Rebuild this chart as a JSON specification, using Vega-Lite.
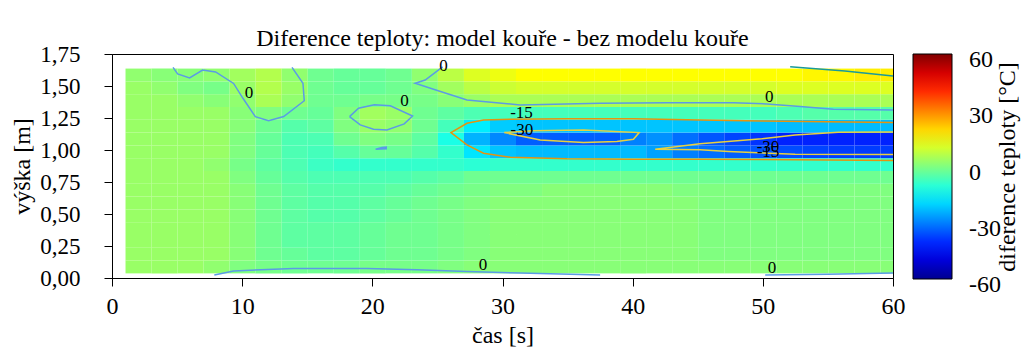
{
"$schema": "https://vega.github.io/schema/vega-lite/v6.json",
"width": 781, "height": 224,
"autosize": {"type": "none"},
"padding": {"left": 112, "top": 54, "right": 132, "bottom": 69},
"background": "white",
"title": {"text": "Diference teploty: model kouře - bez modelu kouře", "font": "Liberation Serif", "fontSize": 24, "fontWeight": "normal", "color": "black", "anchor": "middle", "frame": "group", "baseline": "bottom", "offset": 4, "dy": 36},
"datasets": {
"grid": [
{"t":1,"h":0.04,"v":3},{"t":3,"h":0.04,"v":3},{"t":5,"h":0.04,"v":3},{"t":7,"h":0.04,"v":2},{"t":9,"h":0.04,"v":0},{"t":11,"h":0.04,"v":-1},{"t":13,"h":0.04,"v":-2},{"t":15,"h":0.04,"v":-2},{"t":17,"h":0.04,"v":-2},{"t":19,"h":0.04,"v":-1},{"t":21,"h":0.04,"v":-1},{"t":23,"h":0.04,"v":-1},{"t":25,"h":0.04,"v":0},{"t":27,"h":0.04,"v":1},{"t":29,"h":0.04,"v":1},{"t":31,"h":0.04,"v":1},{"t":33,"h":0.04,"v":1},{"t":35,"h":0.04,"v":1},{"t":37,"h":0.04,"v":1},{"t":39,"h":0.04,"v":1},{"t":41,"h":0.04,"v":1},{"t":43,"h":0.04,"v":1},{"t":45,"h":0.04,"v":1},{"t":47,"h":0.04,"v":1},{"t":49,"h":0.04,"v":1},{"t":51,"h":0.04,"v":1},{"t":53,"h":0.04,"v":1},{"t":55,"h":0.04,"v":1},{"t":57,"h":0.04,"v":1},{"t":59,"h":0.04,"v":1},
{"t":1,"h":0.14,"v":3},{"t":3,"h":0.14,"v":3},{"t":5,"h":0.14,"v":3},{"t":7,"h":0.14,"v":3},{"t":9,"h":0.14,"v":1},{"t":11,"h":0.14,"v":-2},{"t":13,"h":0.14,"v":-3},{"t":15,"h":0.14,"v":-4},{"t":17,"h":0.14,"v":-4},{"t":19,"h":0.14,"v":-3},{"t":21,"h":0.14,"v":-2},{"t":23,"h":0.14,"v":-2},{"t":25,"h":0.14,"v":-1},{"t":27,"h":0.14,"v":0},{"t":29,"h":0.14,"v":1},{"t":31,"h":0.14,"v":1},{"t":33,"h":0.14,"v":1},{"t":35,"h":0.14,"v":1},{"t":37,"h":0.14,"v":1},{"t":39,"h":0.14,"v":1},{"t":41,"h":0.14,"v":1},{"t":43,"h":0.14,"v":1},{"t":45,"h":0.14,"v":0},{"t":47,"h":0.14,"v":0},{"t":49,"h":0.14,"v":0},{"t":51,"h":0.14,"v":0},{"t":53,"h":0.14,"v":0},{"t":55,"h":0.14,"v":0},{"t":57,"h":0.14,"v":0},{"t":59,"h":0.14,"v":0},
{"t":1,"h":0.24,"v":3},{"t":3,"h":0.24,"v":3},{"t":5,"h":0.24,"v":3},{"t":7,"h":0.24,"v":3},{"t":9,"h":0.24,"v":1},{"t":11,"h":0.24,"v":-2},{"t":13,"h":0.24,"v":-4},{"t":15,"h":0.24,"v":-4},{"t":17,"h":0.24,"v":-4},{"t":19,"h":0.24,"v":-3},{"t":21,"h":0.24,"v":-2},{"t":23,"h":0.24,"v":-2},{"t":25,"h":0.24,"v":-1},{"t":27,"h":0.24,"v":0},{"t":29,"h":0.24,"v":1},{"t":31,"h":0.24,"v":1},{"t":33,"h":0.24,"v":1},{"t":35,"h":0.24,"v":1},{"t":37,"h":0.24,"v":1},{"t":39,"h":0.24,"v":1},{"t":41,"h":0.24,"v":1},{"t":43,"h":0.24,"v":1},{"t":45,"h":0.24,"v":0},{"t":47,"h":0.24,"v":0},{"t":49,"h":0.24,"v":0},{"t":51,"h":0.24,"v":0},{"t":53,"h":0.24,"v":0},{"t":55,"h":0.24,"v":0},{"t":57,"h":0.24,"v":0},{"t":59,"h":0.24,"v":0},
{"t":1,"h":0.34,"v":3},{"t":3,"h":0.34,"v":3},{"t":5,"h":0.34,"v":3},{"t":7,"h":0.34,"v":3},{"t":9,"h":0.34,"v":1},{"t":11,"h":0.34,"v":-2},{"t":13,"h":0.34,"v":-4},{"t":15,"h":0.34,"v":-4},{"t":17,"h":0.34,"v":-4},{"t":19,"h":0.34,"v":-3},{"t":21,"h":0.34,"v":-2},{"t":23,"h":0.34,"v":-2},{"t":25,"h":0.34,"v":-1},{"t":27,"h":0.34,"v":0},{"t":29,"h":0.34,"v":1},{"t":31,"h":0.34,"v":1},{"t":33,"h":0.34,"v":1},{"t":35,"h":0.34,"v":1},{"t":37,"h":0.34,"v":1},{"t":39,"h":0.34,"v":1},{"t":41,"h":0.34,"v":1},{"t":43,"h":0.34,"v":1},{"t":45,"h":0.34,"v":0},{"t":47,"h":0.34,"v":0},{"t":49,"h":0.34,"v":0},{"t":51,"h":0.34,"v":0},{"t":53,"h":0.34,"v":0},{"t":55,"h":0.34,"v":0},{"t":57,"h":0.34,"v":0},{"t":59,"h":0.34,"v":0},
{"t":1,"h":0.44,"v":3},{"t":3,"h":0.44,"v":3},{"t":5,"h":0.44,"v":3},{"t":7,"h":0.44,"v":3},{"t":9,"h":0.44,"v":1},{"t":11,"h":0.44,"v":-2},{"t":13,"h":0.44,"v":-4},{"t":15,"h":0.44,"v":-5},{"t":17,"h":0.44,"v":-5},{"t":19,"h":0.44,"v":-4},{"t":21,"h":0.44,"v":-3},{"t":23,"h":0.44,"v":-2},{"t":25,"h":0.44,"v":-1},{"t":27,"h":0.44,"v":0},{"t":29,"h":0.44,"v":1},{"t":31,"h":0.44,"v":1},{"t":33,"h":0.44,"v":1},{"t":35,"h":0.44,"v":1},{"t":37,"h":0.44,"v":1},{"t":39,"h":0.44,"v":1},{"t":41,"h":0.44,"v":1},{"t":43,"h":0.44,"v":1},{"t":45,"h":0.44,"v":0},{"t":47,"h":0.44,"v":0},{"t":49,"h":0.44,"v":0},{"t":51,"h":0.44,"v":0},{"t":53,"h":0.44,"v":0},{"t":55,"h":0.44,"v":0},{"t":57,"h":0.44,"v":0},{"t":59,"h":0.44,"v":0},
{"t":1,"h":0.54,"v":3},{"t":3,"h":0.54,"v":3},{"t":5,"h":0.54,"v":3},{"t":7,"h":0.54,"v":3},{"t":9,"h":0.54,"v":1},{"t":11,"h":0.54,"v":-2},{"t":13,"h":0.54,"v":-4},{"t":15,"h":0.54,"v":-5},{"t":17,"h":0.54,"v":-5},{"t":19,"h":0.54,"v":-4},{"t":21,"h":0.54,"v":-3},{"t":23,"h":0.54,"v":-2},{"t":25,"h":0.54,"v":-1},{"t":27,"h":0.54,"v":0},{"t":29,"h":0.54,"v":1},{"t":31,"h":0.54,"v":1},{"t":33,"h":0.54,"v":1},{"t":35,"h":0.54,"v":1},{"t":37,"h":0.54,"v":1},{"t":39,"h":0.54,"v":1},{"t":41,"h":0.54,"v":1},{"t":43,"h":0.54,"v":1},{"t":45,"h":0.54,"v":0},{"t":47,"h":0.54,"v":0},{"t":49,"h":0.54,"v":0},{"t":51,"h":0.54,"v":0},{"t":53,"h":0.54,"v":0},{"t":55,"h":0.54,"v":0},{"t":57,"h":0.54,"v":0},{"t":59,"h":0.54,"v":0},
{"t":1,"h":0.64,"v":3},{"t":3,"h":0.64,"v":3},{"t":5,"h":0.64,"v":3},{"t":7,"h":0.64,"v":3},{"t":9,"h":0.64,"v":1},{"t":11,"h":0.64,"v":-2},{"t":13,"h":0.64,"v":-4},{"t":15,"h":0.64,"v":-5},{"t":17,"h":0.64,"v":-5},{"t":19,"h":0.64,"v":-5},{"t":21,"h":0.64,"v":-4},{"t":23,"h":0.64,"v":-3},{"t":25,"h":0.64,"v":-2},{"t":27,"h":0.64,"v":-1},{"t":29,"h":0.64,"v":0},{"t":31,"h":0.64,"v":0},{"t":33,"h":0.64,"v":1},{"t":35,"h":0.64,"v":1},{"t":37,"h":0.64,"v":1},{"t":39,"h":0.64,"v":1},{"t":41,"h":0.64,"v":1},{"t":43,"h":0.64,"v":0},{"t":45,"h":0.64,"v":0},{"t":47,"h":0.64,"v":0},{"t":49,"h":0.64,"v":0},{"t":51,"h":0.64,"v":0},{"t":53,"h":0.64,"v":0},{"t":55,"h":0.64,"v":0},{"t":57,"h":0.64,"v":0},{"t":59,"h":0.64,"v":0},
{"t":1,"h":0.74,"v":3},{"t":3,"h":0.74,"v":3},{"t":5,"h":0.74,"v":3},{"t":7,"h":0.74,"v":3},{"t":9,"h":0.74,"v":0},{"t":11,"h":0.74,"v":-3},{"t":13,"h":0.74,"v":-5},{"t":15,"h":0.74,"v":-6},{"t":17,"h":0.74,"v":-6},{"t":19,"h":0.74,"v":-6},{"t":21,"h":0.74,"v":-6},{"t":23,"h":0.74,"v":-5},{"t":25,"h":0.74,"v":-4},{"t":27,"h":0.74,"v":-2},{"t":29,"h":0.74,"v":-2},{"t":31,"h":0.74,"v":-2},{"t":33,"h":0.74,"v":-2},{"t":35,"h":0.74,"v":-2},{"t":37,"h":0.74,"v":-2},{"t":39,"h":0.74,"v":-2},{"t":41,"h":0.74,"v":-2},{"t":43,"h":0.74,"v":-2},{"t":45,"h":0.74,"v":-2},{"t":47,"h":0.74,"v":-2},{"t":49,"h":0.74,"v":-2},{"t":51,"h":0.74,"v":-2},{"t":53,"h":0.74,"v":-2},{"t":55,"h":0.74,"v":-2},{"t":57,"h":0.74,"v":-2},{"t":59,"h":0.74,"v":-2},
{"t":1,"h":0.84,"v":3},{"t":3,"h":0.84,"v":3},{"t":5,"h":0.84,"v":3},{"t":7,"h":0.84,"v":2},{"t":9,"h":0.84,"v":-1},{"t":11,"h":0.84,"v":-4},{"t":13,"h":0.84,"v":-6},{"t":15,"h":0.84,"v":-8},{"t":17,"h":0.84,"v":-9},{"t":19,"h":0.84,"v":-9},{"t":21,"h":0.84,"v":-9},{"t":23,"h":0.84,"v":-9},{"t":25,"h":0.84,"v":-9},{"t":27,"h":0.84,"v":-10},{"t":29,"h":0.84,"v":-9},{"t":31,"h":0.84,"v":-9},{"t":33,"h":0.84,"v":-9},{"t":35,"h":0.84,"v":-9},{"t":37,"h":0.84,"v":-9},{"t":39,"h":0.84,"v":-9},{"t":41,"h":0.84,"v":-9},{"t":43,"h":0.84,"v":-9},{"t":45,"h":0.84,"v":-9},{"t":47,"h":0.84,"v":-9},{"t":49,"h":0.84,"v":-9},{"t":51,"h":0.84,"v":-9},{"t":53,"h":0.84,"v":-9},{"t":55,"h":0.84,"v":-9},{"t":57,"h":0.84,"v":-9},{"t":59,"h":0.84,"v":-9},
{"t":1,"h":0.94,"v":3},{"t":3,"h":0.94,"v":3},{"t":5,"h":0.94,"v":3},{"t":7,"h":0.94,"v":3},{"t":9,"h":0.94,"v":0},{"t":11,"h":0.94,"v":-3},{"t":13,"h":0.94,"v":-6},{"t":15,"h":0.94,"v":-7},{"t":17,"h":0.94,"v":-5},{"t":19,"h":0.94,"v":-3},{"t":21,"h":0.94,"v":-3},{"t":23,"h":0.94,"v":-5},{"t":25,"h":0.94,"v":-9},{"t":27,"h":0.94,"v":-18},{"t":29,"h":0.94,"v":-22},{"t":31,"h":0.94,"v":-23},{"t":33,"h":0.94,"v":-23},{"t":35,"h":0.94,"v":-23},{"t":37,"h":0.94,"v":-23},{"t":39,"h":0.94,"v":-23},{"t":41,"h":0.94,"v":-26},{"t":43,"h":0.94,"v":-30},{"t":45,"h":0.94,"v":-32},{"t":47,"h":0.94,"v":-34},{"t":49,"h":0.94,"v":-35},{"t":51,"h":0.94,"v":-36},{"t":53,"h":0.94,"v":-37},{"t":55,"h":0.94,"v":-38},{"t":57,"h":0.94,"v":-38},{"t":59,"h":0.94,"v":-38},
{"t":1,"h":1.04,"v":3},{"t":3,"h":1.04,"v":3},{"t":5,"h":1.04,"v":3},{"t":7,"h":1.04,"v":3},{"t":9,"h":1.04,"v":0},{"t":11,"h":1.04,"v":-3},{"t":13,"h":1.04,"v":-6},{"t":15,"h":1.04,"v":-6},{"t":17,"h":1.04,"v":-2},{"t":19,"h":1.04,"v":0},{"t":21,"h":1.04,"v":-1},{"t":23,"h":1.04,"v":-4},{"t":25,"h":1.04,"v":-12},{"t":27,"h":1.04,"v":-24},{"t":29,"h":1.04,"v":-29},{"t":31,"h":1.04,"v":-34},{"t":33,"h":1.04,"v":-34},{"t":35,"h":1.04,"v":-34},{"t":37,"h":1.04,"v":-34},{"t":39,"h":1.04,"v":-30},{"t":41,"h":1.04,"v":-28},{"t":43,"h":1.04,"v":-32},{"t":45,"h":1.04,"v":-35},{"t":47,"h":1.04,"v":-37},{"t":49,"h":1.04,"v":-39},{"t":51,"h":1.04,"v":-41},{"t":53,"h":1.04,"v":-41},{"t":55,"h":1.04,"v":-41},{"t":57,"h":1.04,"v":-41},{"t":59,"h":1.04,"v":-41},
{"t":1,"h":1.14,"v":3},{"t":3,"h":1.14,"v":3},{"t":5,"h":1.14,"v":3},{"t":7,"h":1.14,"v":3},{"t":9,"h":1.14,"v":1},{"t":11,"h":1.14,"v":-2},{"t":13,"h":1.14,"v":-5},{"t":15,"h":1.14,"v":-4},{"t":17,"h":1.14,"v":0},{"t":19,"h":1.14,"v":3},{"t":21,"h":1.14,"v":2},{"t":23,"h":1.14,"v":-2},{"t":25,"h":1.14,"v":-7},{"t":27,"h":1.14,"v":-17},{"t":29,"h":1.14,"v":-21},{"t":31,"h":1.14,"v":-22},{"t":33,"h":1.14,"v":-22},{"t":35,"h":1.14,"v":-22},{"t":37,"h":1.14,"v":-22},{"t":39,"h":1.14,"v":-22},{"t":41,"h":1.14,"v":-22},{"t":43,"h":1.14,"v":-22},{"t":45,"h":1.14,"v":-22},{"t":47,"h":1.14,"v":-22},{"t":49,"h":1.14,"v":-22},{"t":51,"h":1.14,"v":-23},{"t":53,"h":1.14,"v":-23},{"t":55,"h":1.14,"v":-23},{"t":57,"h":1.14,"v":-23},{"t":59,"h":1.14,"v":-23},
{"t":1,"h":1.24,"v":3},{"t":3,"h":1.24,"v":3},{"t":5,"h":1.24,"v":3},{"t":7,"h":1.24,"v":3},{"t":9,"h":1.24,"v":1},{"t":11,"h":1.24,"v":0},{"t":13,"h":1.24,"v":-2},{"t":15,"h":1.24,"v":-3},{"t":17,"h":1.24,"v":0},{"t":19,"h":1.24,"v":4},{"t":21,"h":1.24,"v":3},{"t":23,"h":1.24,"v":-2},{"t":25,"h":1.24,"v":-4},{"t":27,"h":1.24,"v":-6},{"t":29,"h":1.24,"v":-7},{"t":31,"h":1.24,"v":-7},{"t":33,"h":1.24,"v":-7},{"t":35,"h":1.24,"v":-7},{"t":37,"h":1.24,"v":-7},{"t":39,"h":1.24,"v":-7},{"t":41,"h":1.24,"v":-7},{"t":43,"h":1.24,"v":-7},{"t":45,"h":1.24,"v":-7},{"t":47,"h":1.24,"v":-7},{"t":49,"h":1.24,"v":-7},{"t":51,"h":1.24,"v":-6},{"t":53,"h":1.24,"v":-5},{"t":55,"h":1.24,"v":-5},{"t":57,"h":1.24,"v":-5},{"t":59,"h":1.24,"v":-5},
{"t":1,"h":1.34,"v":3},{"t":3,"h":1.34,"v":3},{"t":5,"h":1.34,"v":2},{"t":7,"h":1.34,"v":1},{"t":9,"h":1.34,"v":2},{"t":11,"h":1.34,"v":5},{"t":13,"h":1.34,"v":2},{"t":15,"h":1.34,"v":-2},{"t":17,"h":1.34,"v":-2},{"t":19,"h":1.34,"v":-1},{"t":21,"h":1.34,"v":-1},{"t":23,"h":1.34,"v":-1},{"t":25,"h":1.34,"v":1},{"t":27,"h":1.34,"v":3},{"t":29,"h":1.34,"v":5},{"t":31,"h":1.34,"v":5},{"t":33,"h":1.34,"v":5},{"t":35,"h":1.34,"v":5},{"t":37,"h":1.34,"v":5},{"t":39,"h":1.34,"v":5},{"t":41,"h":1.34,"v":5},{"t":43,"h":1.34,"v":5},{"t":45,"h":1.34,"v":5},{"t":47,"h":1.34,"v":5},{"t":49,"h":1.34,"v":5},{"t":51,"h":1.34,"v":5},{"t":53,"h":1.34,"v":5},{"t":55,"h":1.34,"v":5},{"t":57,"h":1.34,"v":5},{"t":59,"h":1.34,"v":5},
{"t":1,"h":1.44,"v":3},{"t":3,"h":1.44,"v":2},{"t":5,"h":1.44,"v":0},{"t":7,"h":1.44,"v":-1},{"t":9,"h":1.44,"v":3},{"t":11,"h":1.44,"v":6},{"t":13,"h":1.44,"v":3},{"t":15,"h":1.44,"v":-2},{"t":17,"h":1.44,"v":-3},{"t":19,"h":1.44,"v":-3},{"t":21,"h":1.44,"v":-2},{"t":23,"h":1.44,"v":0},{"t":25,"h":1.44,"v":4},{"t":27,"h":1.44,"v":7},{"t":29,"h":1.44,"v":9},{"t":31,"h":1.44,"v":10},{"t":33,"h":1.44,"v":10},{"t":35,"h":1.44,"v":10},{"t":37,"h":1.44,"v":10},{"t":39,"h":1.44,"v":10},{"t":41,"h":1.44,"v":10},{"t":43,"h":1.44,"v":10},{"t":45,"h":1.44,"v":10},{"t":47,"h":1.44,"v":10},{"t":49,"h":1.44,"v":10},{"t":51,"h":1.44,"v":11},{"t":53,"h":1.44,"v":11},{"t":55,"h":1.44,"v":11},{"t":57,"h":1.44,"v":11},{"t":59,"h":1.44,"v":11},
{"t":1,"h":1.54,"v":2},{"t":3,"h":1.54,"v":1},{"t":5,"h":1.54,"v":1},{"t":7,"h":1.54,"v":2},{"t":9,"h":1.54,"v":4},{"t":11,"h":1.54,"v":6},{"t":13,"h":1.54,"v":2},{"t":15,"h":1.54,"v":-2},{"t":17,"h":1.54,"v":-3},{"t":19,"h":1.54,"v":-3},{"t":21,"h":1.54,"v":-2},{"t":23,"h":1.54,"v":2},{"t":25,"h":1.54,"v":7},{"t":27,"h":1.54,"v":11},{"t":29,"h":1.54,"v":13},{"t":31,"h":1.54,"v":15},{"t":33,"h":1.54,"v":15},{"t":35,"h":1.54,"v":15},{"t":37,"h":1.54,"v":15},{"t":39,"h":1.54,"v":15},{"t":41,"h":1.54,"v":15},{"t":43,"h":1.54,"v":15},{"t":45,"h":1.54,"v":15},{"t":47,"h":1.54,"v":15},{"t":49,"h":1.54,"v":15},{"t":51,"h":1.54,"v":15},{"t":53,"h":1.54,"v":16},{"t":55,"h":1.54,"v":16},{"t":57,"h":1.54,"v":17},{"t":59,"h":1.54,"v":17}
],
"contours": [
{"c":"A","lv":"0","o":1,"t":4.69,"h":1.646},{"c":"A","lv":"0","o":2,"t":5.04,"h":1.594},{"c":"A","lv":"0","o":3,"t":5.96,"h":1.563},{"c":"A","lv":"0","o":4,"t":6.96,"h":1.625},{"c":"A","lv":"0","o":5,"t":7.96,"h":1.61},{"c":"A","lv":"0","o":6,"t":9.34,"h":1.52},{"c":"A","lv":"0","o":7,"t":10.06,"h":1.404},{"c":"A","lv":"0","o":8,"t":11.01,"h":1.261},{"c":"A","lv":"0","o":9,"t":12.03,"h":1.229},{"c":"A","lv":"0","o":10,"t":13.19,"h":1.261},{"c":"A","lv":"0","o":11,"t":14.77,"h":1.385},{"c":"A","lv":"0","o":12,"t":14.67,"h":1.521},{"c":"A","lv":"0","o":13,"t":13.83,"h":1.646},
{"c":"B","lv":"0","o":1,"t":18.25,"h":1.261},{"c":"B","lv":"0","o":2,"t":18.94,"h":1.326},{"c":"B","lv":"0","o":3,"t":20.15,"h":1.354},{"c":"B","lv":"0","o":4,"t":21.38,"h":1.346},{"c":"B","lv":"0","o":5,"t":23.09,"h":1.266},{"c":"B","lv":"0","o":6,"t":22.45,"h":1.204},{"c":"B","lv":"0","o":7,"t":21.12,"h":1.157},{"c":"B","lv":"0","o":8,"t":20.09,"h":1.162},{"c":"B","lv":"0","o":9,"t":19.07,"h":1.196},{"c":"B","lv":"0","o":10,"t":18.25,"h":1.261},
{"c":"C","lv":"0","o":1,"t":20.25,"h":1.006},{"c":"C","lv":"0","o":2,"t":20.74,"h":1.019},{"c":"C","lv":"0","o":3,"t":21.07,"h":1.022},{"c":"C","lv":"0","o":4,"t":21.07,"h":1.009},{"c":"C","lv":"0","o":5,"t":20.25,"h":1.006},
{"c":"D","lv":"0","o":1,"t":25.4,"h":1.65},{"c":"D","lv":"0","o":2,"t":24.06,"h":1.547},{"c":"D","lv":"0","o":3,"t":23.29,"h":1.521},{"c":"D","lv":"0","o":4,"t":24.7,"h":1.474},{"c":"D","lv":"0","o":5,"t":27.27,"h":1.391},{"c":"D","lv":"0","o":6,"t":31.36,"h":1.352},{"c":"D","lv":"0","o":7,"t":37.5,"h":1.365},{"c":"D","lv":"0","o":8,"t":42.63,"h":1.37},{"c":"D","lv":"0","o":9,"t":47.74,"h":1.37},{"c":"D","lv":"0","o":10,"t":50.31,"h":1.36},{"c":"D","lv":"0","o":11,"t":52.87,"h":1.339},{"c":"D","lv":"0","o":12,"t":55.42,"h":1.318},{"c":"D","lv":"0","o":13,"t":60,"h":1.313},
{"c":"I","lv":"0","o":1,"t":7.86,"h":0.023},{"c":"I","lv":"0","o":2,"t":9.34,"h":0.055},{"c":"I","lv":"0","o":3,"t":13.95,"h":0.075},{"c":"I","lv":"0","o":4,"t":19.59,"h":0.075},{"c":"I","lv":"0","o":5,"t":23.43,"h":0.065},{"c":"I","lv":"0","o":6,"t":27.27,"h":0.051},{"c":"I","lv":"0","o":7,"t":31.36,"h":0.039},{"c":"I","lv":"0","o":8,"t":37.5,"h":0.023},
{"c":"J","lv":"0","o":1,"t":50.18,"h":0.023},{"c":"J","lv":"0","o":2,"t":55,"h":0.03},{"c":"J","lv":"0","o":3,"t":60,"h":0.039},
{"c":"E","lv":"15","o":1,"t":52.1,"h":1.65},{"c":"E","lv":"15","o":2,"t":56.3,"h":1.617},{"c":"E","lv":"15","o":3,"t":60,"h":1.578},
{"c":"F","lv":"-15","o":1,"t":60,"h":1.214},{"c":"F","lv":"-15","o":2,"t":49.9,"h":1.227},{"c":"F","lv":"-15","o":3,"t":45.18,"h":1.235},{"c":"F","lv":"-15","o":4,"t":40.06,"h":1.245},{"c":"F","lv":"-15","o":5,"t":34.95,"h":1.245},{"c":"F","lv":"-15","o":6,"t":30.59,"h":1.24},{"c":"F","lv":"-15","o":7,"t":28.54,"h":1.235},{"c":"F","lv":"-15","o":8,"t":27.27,"h":1.209},{"c":"F","lv":"-15","o":9,"t":26.04,"h":1.136},{"c":"F","lv":"-15","o":10,"t":27.27,"h":1.04},{"c":"F","lv":"-15","o":11,"t":28.54,"h":0.975},{"c":"F","lv":"-15","o":12,"t":30.59,"h":0.944},{"c":"F","lv":"-15","o":13,"t":34.95,"h":0.931},{"c":"F","lv":"-15","o":14,"t":40.06,"h":0.928},{"c":"F","lv":"-15","o":15,"t":45.18,"h":0.928},{"c":"F","lv":"-15","o":16,"t":50,"h":0.925},{"c":"F","lv":"-15","o":17,"t":60,"h":0.917},
{"c":"G","lv":"-30","o":1,"t":30.13,"h":1.136},{"c":"G","lv":"-30","o":2,"t":32.38,"h":1.151},{"c":"G","lv":"-30","o":3,"t":36.22,"h":1.157},{"c":"G","lv":"-30","o":4,"t":40.5,"h":1.136},{"c":"G","lv":"-30","o":5,"t":40.06,"h":1.084},{"c":"G","lv":"-30","o":6,"t":38.79,"h":1.066},{"c":"G","lv":"-30","o":7,"t":36.22,"h":1.058},{"c":"G","lv":"-30","o":8,"t":32.9,"h":1.079},{"c":"G","lv":"-30","o":9,"t":30.13,"h":1.136},
{"c":"H","lv":"-30","o":1,"t":60,"h":1.141},{"c":"H","lv":"-30","o":2,"t":55.81,"h":1.139},{"c":"H","lv":"-30","o":3,"t":52.48,"h":1.118},{"c":"H","lv":"-30","o":4,"t":49.92,"h":1.087},{"c":"H","lv":"-30","o":5,"t":45.18,"h":1.048},{"c":"H","lv":"-30","o":6,"t":41.73,"h":1.006},{"c":"H","lv":"-30","o":7,"t":45.18,"h":1.001},{"c":"H","lv":"-30","o":8,"t":47.36,"h":0.988},{"c":"H","lv":"-30","o":9,"t":52.48,"h":0.967},{"c":"H","lv":"-30","o":10,"t":60,"h":0.964}
],
"labels": [
{"s":"0","t":10.52,"h":1.443},{"s":"0","t":25.47,"h":1.654},{"s":"0","t":22.47,"h":1.381},{"s":"0","t":28.5,"h":0.1},{"s":"-15","t":31.46,"h":1.292},{"s":"-30","t":31.49,"h":1.157},{"s":"0","t":50.5,"h":1.414},{"s":"-30","t":50.4,"h":1.024},{"s":"-15","t":50.4,"h":0.985},{"s":"0","t":50.7,"h":0.078}
]
},
"layer": [
{"data": {"name": "grid"},
 "mark": {"type": "rect", "clip": true, "binSpacing": 0},
 "encoding": {
  "x": {"field": "t", "type": "quantitative", "bin": {"binned": true, "step": 2}, "title": "čas [s]",
        "scale": {"domain": [0, 60], "nice": false, "zero": false},
        "axis": {"values": [0,10,20,30,40,50,60], "format": "d", "labelPadding": 8, "titlePadding": 5}},
  "y": {"field": "h", "type": "quantitative", "bin": {"binned": true, "step": 0.1}, "title": "výška [m]",
        "scale": {"domain": [0, 1.75], "nice": false, "zero": false},
        "axis": {"values": [0,0.25,0.5,0.75,1,1.25,1.5,1.75], "labelExpr": "replace(format(datum.value, '.2f'), '.', ',')", "labelFontSize": 23, "labelPadding": 24, "titlePadding": 5}},
  "color": {"field": "v", "type": "quantitative",
        "scale": {"type": "linear", "domain": [-60,-45,-15,15,45,60], "range": ["#000090","#0000ff","#00ffff","#ffff00","#ff0000","#800000"], "interpolate": "rgb", "clamp": true},
        "legend": {"type": "gradient", "title": "diference teploty [°C]", "orient": "right", "offset": 20, "direction": "vertical", "gradientLength": 225, "gradientThickness": 39, "values": [-60,-30,0,30,60], "labelExpr": "'' + datum.value", "labelFont": "Liberation Serif", "labelFontSize": 24, "labelColor": "black", "labelOffset": 17, "labelOverlap": false, "titleFont": "Liberation Serif", "titleFontSize": 24, "titleFontWeight": "normal", "titleColor": "black", "titleOrient": "right", "titleAnchor": "middle", "titleLimit": 400, "titlePadding": 4, "gradientStrokeColor": "black", "gradientStrokeWidth": 1,
          "encode": {"title": {"update": {"angle": {"value": -90}, "dy": {"value": 15}}}, "labels": {"update": {"baseline": {"value": "middle"}, "dy": {"value": 6}}}}}}
 }},
{"data": {"name": "contours"}, "transform": [{"filter": {"field": "lv", "equal": "0"}}],
 "mark": {"type": "line", "stroke": "#5b9be6", "strokeWidth": 1.5, "clip": true},
 "encoding": {"x": {"field": "t", "type": "quantitative", "title": "čas [s]"}, "y": {"field": "h", "type": "quantitative", "title": "výška [m]"}, "detail": {"field": "c"}, "order": {"field": "o", "type": "quantitative"}}},
{"data": {"name": "contours"}, "transform": [{"filter": {"field": "lv", "equal": "15"}}],
 "mark": {"type": "line", "stroke": "#1a9a9a", "strokeWidth": 1.5, "clip": true},
 "encoding": {"x": {"field": "t", "type": "quantitative", "title": "čas [s]"}, "y": {"field": "h", "type": "quantitative", "title": "výška [m]"}, "detail": {"field": "c"}, "order": {"field": "o", "type": "quantitative"}}},
{"data": {"name": "contours"}, "transform": [{"filter": {"field": "lv", "equal": "-15"}}],
 "mark": {"type": "line", "stroke": "#e5940f", "strokeWidth": 1.5, "clip": true},
 "encoding": {"x": {"field": "t", "type": "quantitative", "title": "čas [s]"}, "y": {"field": "h", "type": "quantitative", "title": "výška [m]"}, "detail": {"field": "c"}, "order": {"field": "o", "type": "quantitative"}}},
{"data": {"name": "contours"}, "transform": [{"filter": {"field": "lv", "equal": "-30"}}],
 "mark": {"type": "line", "stroke": "#e8d040", "strokeWidth": 1.5, "clip": true},
 "encoding": {"x": {"field": "t", "type": "quantitative", "title": "čas [s]"}, "y": {"field": "h", "type": "quantitative", "title": "výška [m]"}, "detail": {"field": "c"}, "order": {"field": "o", "type": "quantitative"}}},
{"data": {"name": "labels"},
 "mark": {"type": "text", "font": "Liberation Serif", "fontSize": 17, "color": "black", "align": "center", "baseline": "middle"},
 "encoding": {"x": {"field": "t", "type": "quantitative", "title": "čas [s]"}, "y": {"field": "h", "type": "quantitative", "title": "výška [m]"}, "text": {"field": "s"}}}
],
"config": {
 "view": {"stroke": "black", "strokeWidth": 1},
 "axis": {"domainColor": "black", "tickColor": "black", "labelColor": "black", "titleColor": "black", "labelFont": "Liberation Serif", "titleFont": "Liberation Serif", "labelFontSize": 24, "titleFontSize": 24, "titleFontWeight": "normal", "tickSize": 8, "grid": false, "labelFlush": false, "labelOverlap": false, "domainWidth": 1, "tickWidth": 1}
}
}
